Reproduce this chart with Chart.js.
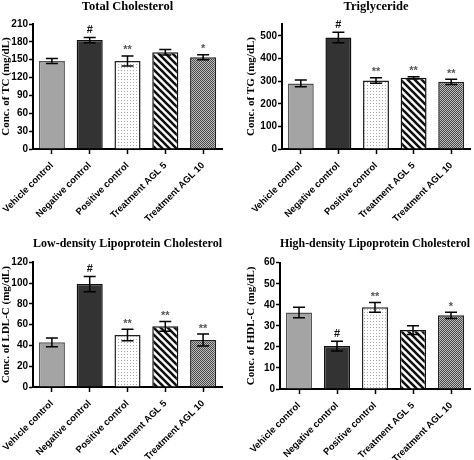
<!DOCTYPE html>
<html><head><meta charset="utf-8">
<script src="https://cdn.jsdelivr.net/npm/chart.js@4"></script>
<style>
html,body{margin:0;padding:0;background:#fff;}
#wrap{position:relative;width:474px;height:460px;}
.p{position:absolute;width:237px;height:230px;}
</style></head><body>
<div id="wrap">
<div class="p" style="left:0;top:0"><canvas id="c1" width="237" height="230"></canvas></div>
<div class="p" style="left:237px;top:0"><canvas id="c2" width="237" height="230"></canvas></div>
<div class="p" style="left:0;top:230px"><canvas id="c3" width="237" height="230"></canvas></div>
<div class="p" style="left:237px;top:230px"><canvas id="c4" width="237" height="230"></canvas></div>
</div>
<script>
const categories = ['Vehicle control','Negative control','Positive control','Treatment AGL 5','Treatment AGL 10'];

const tcMean = [148, 183, 148, 162.5, 154];
const tcErr  = [4.2, 4.5, 8.4, 4.7, 4.2];
const tcSig  = ['', '#', '**', '', '*'];
const tcTicks = [0, 30, 60, 90, 120, 150, 180, 210];

const tgMean = [290, 493, 303, 315, 297];
const tgErr  = [15, 23, 12, 5, 12];
const tgSig  = ['', '#', '**', '**', '**'];
const tgTicks = [0, 100, 200, 300, 400, 500];

const ldlMean = [43, 99, 50, 58.4, 45.2];
const ldlErr  = [4.2, 7.4, 5.5, 4.7, 5.8];
const ldlSig  = ['', '#', '**', '**', '**'];
const ldlTicks = [0, 20, 40, 60, 80, 100, 120];

const hdlMean = [36.3, 20.4, 38.8, 28.0, 35.0];
const hdlErr  = [2.5, 2.3, 2.3, 2.1, 1.5];
const hdlSig  = ['', '#', '**', '', '*'];
const hdlTicks = [0, 10, 20, 30, 40, 50, 60];

function makePattern(kind){
  const c = document.createElement('canvas');
  const ctx = c.getContext('2d');
  if(kind==='dots'){
    c.width=3;c.height=3;
    ctx.fillStyle='#fff';ctx.fillRect(0,0,3,3);
    ctx.fillStyle='#a8a8a8';ctx.fillRect(1,1,1,1);
  } else if(kind==='stripes'){
    const s=7;c.width=s;c.height=s;
    ctx.fillStyle='#fff';ctx.fillRect(0,0,s,s);
    ctx.strokeStyle='#111';ctx.lineWidth=2.6;
    ctx.beginPath();
    ctx.moveTo(-1,-1);ctx.lineTo(s+1,s+1);
    ctx.moveTo(s-1,-1);ctx.lineTo(s+1,1);
    ctx.moveTo(-1,s-1);ctx.lineTo(1,s+1);
    ctx.stroke();
  } else {
    c.width=2;c.height=2;
    ctx.fillStyle='#bcbcbc';ctx.fillRect(0,0,2,2);
    ctx.fillStyle='#4a4a4a';ctx.fillRect(0,0,1,1);ctx.fillRect(1,1,1,1);
  }
  const tmp=document.createElement('canvas').getContext('2d');
  return tmp.createPattern(c,'repeat');
}
const fills = ['#a4a4a4', '#333333', makePattern('dots'), makePattern('stripes'), makePattern('check')];
const borders = ['#555555', '#111111', '#222222', '#111111', '#222222'];

const errPlugin = {
  id:'errbars',
  afterDatasetsDraw(chart){
    const o = chart.options.plugins.errbars;
    const ctx = chart.ctx, ys = chart.scales.y;
    const meta = chart.getDatasetMeta(0);
    ctx.save();
    meta.data.forEach((bar,i)=>{
      const m = o.mean[i], e = o.err[i];
      const yt = ys.getPixelForValue(m+e), yb = ys.getPixelForValue(m-e);
      const x = bar.x;
      ctx.strokeStyle='#000';ctx.lineWidth=1.5;
      ctx.beginPath();
      ctx.moveTo(x,yt);ctx.lineTo(x,yb);
      ctx.moveTo(x-6,yt);ctx.lineTo(x+6,yt);
      ctx.moveTo(x-6,yb);ctx.lineTo(x+6,yb);
      ctx.stroke();
      const s = o.sig[i];
      if(s){
        ctx.fillStyle = s==='#' ? '#111' : '#555';
        ctx.font = 'bold 11px "Liberation Sans", Arial, sans-serif';
        ctx.textAlign='center';ctx.textBaseline='bottom';
        ctx.fillText(s, x, yt - (s==='#'?2:0));
      }
    });
    ctx.restore();
  }
};

function build(id, cfg){
  const tickVals = cfg.ticks;
  new Chart(document.getElementById(id), {
    type:'bar',
    data:{labels:categories, datasets:[{data:cfg.mean, backgroundColor:fills, borderColor:borders, borderWidth:1.5, barPercentage:0.69, categoryPercentage:1}]},
    plugins:[errPlugin],
    options:{
      responsive:false, animation:false,
      layout:{padding:{left:cfg.pl, right:cfg.pr, top:0, bottom:0}},
      plugins:{
        legend:{display:false}, tooltip:{enabled:false},
        title:{display:true, text:cfg.title, fullSize:false, color:'#000',
          font:{family:'"Liberation Serif", "Times New Roman", serif', size:12.5, weight:'bold'},
          padding:{top:cfg.tt,bottom:cfg.tb}},
        errbars:{mean:cfg.mean, err:cfg.err, sig:cfg.sig}
      },
      scales:{
        x:{
          offset:true,
          grid:{display:true, offset:false, drawOnChartArea:false, drawTicks:true, tickLength:5, tickColor:'#000', tickWidth:1.5, color:'#000'},
          border:{display:true, color:'#000', width:2},
          ticks:{color:'#000', font:{family:'"Liberation Sans", Arial, sans-serif', size:9.4, weight:'bold'}, minRotation:45, maxRotation:45, padding:6},
          afterFit(s){ s.height = cfg.xh; s.paddingLeft = 0; s.paddingRight = 0; }
        },
        y:{
          min:0, max:cfg.max,
          afterBuildTicks(s){ s.ticks = tickVals.map(v=>({value:v})); },
          grid:{display:true, drawOnChartArea:false, drawTicks:true, tickLength:4, tickColor:'#000', tickWidth:1.5, color:'#000'},
          border:{display:true, color:'#000', width:2},
          ticks:{color:'#000', font:{family:'"Liberation Sans", Arial, sans-serif', size:10, weight:'bold'}, padding:1},
          title:{display:true, text:cfg.ytitle, color:'#000', padding:{top:0,bottom:2},
            font:{family:'"Liberation Serif", "Times New Roman", serif', size:11, weight:'bold'}},
          afterFit(s){ s.width = cfg.yw; s.paddingTop = 0; s.paddingBottom = 0; }
        }
      }
    }
  });
}

build('c1',{title:'Total Cholesterol', ytitle:'Conc. of TC (mg/dL)', mean:tcMean, err:tcErr, sig:tcSig, ticks:tcTicks, max:210,
  pl:0, yw:33, pr:15, tt:-1, tb:10, xh:81});
build('c2',{title:'Triglyceride', ytitle:'Conc. of TG (mg/dL)', mean:tgMean, err:tgErr, sig:tgSig, ticks:tgTicks, max:553,
  pl:8, yw:37, pr:4, tt:-1, tb:10, xh:81});
build('c3',{title:'Low-density Lipoprotein Cholesterol', ytitle:'Conc. of LDL-C (mg/dL)', mean:ldlMean, err:ldlErr, sig:ldlSig, ticks:ldlTicks, max:120,
  pl:0, yw:33, pr:15, tt:6.5, tb:10.8, xh:73});
build('c4',{title:'High-density Lipoprotein Cholesterol', ytitle:'Conc. of HDL-C (mg/dL)', mean:hdlMean, err:hdlErr, sig:hdlSig, ticks:hdlTicks, max:60,
  pl:8, yw:35, pr:4, tt:6.5, tb:11.2, xh:71});
</script>
</body></html>
